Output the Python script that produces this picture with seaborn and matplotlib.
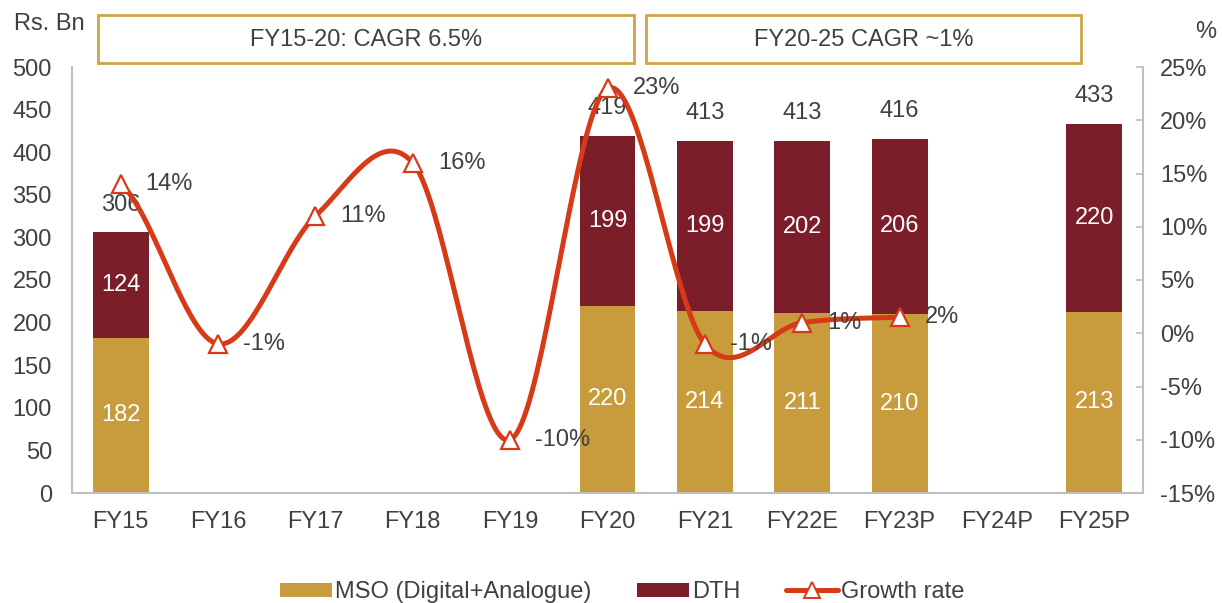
import numpy as np
import pandas as pd
import matplotlib
matplotlib.use("Agg")
import matplotlib.pyplot as plt
from matplotlib.patches import Rectangle, Patch
from matplotlib.lines import Line2D
import seaborn as sns

# ---- data ----
years = ["FY15", "FY16", "FY17", "FY18", "FY19", "FY20", "FY21",
         "FY22E", "FY23P", "FY24P", "FY25P"]
bar_years = ["FY15", "FY20", "FY21", "FY22E", "FY23P", "FY25P"]
mso = [182, 220, 214, 211, 210, 213]
dth = [124, 199, 199, 202, 206, 220]
growth_years = ["FY15", "FY16", "FY17", "FY18", "FY19", "FY20", "FY21",
                "FY22E", "FY23P"]
growth = [14, -1, 11, 16, -10, 23, -1, 1.0, 1.5]
cagr_notes = ["FY15-20: CAGR 6.5%", "FY20-25 CAGR ~1%"]

# ---- style ----
MSO_C = "#C89B3C"
DTH_C = "#7B1E29"
LINE_C = "#D63A17"
BOX_C = "#CFA445"
TXT_C = "#404040"
AX_C = "#BFBFBF"
FS = 17

sns.set_theme(style="white")
plt.rcParams["font.family"] = ["Liberation Sans", "DejaVu Sans"]
plt.rcParams["text.color"] = TXT_C

W, H = 1222, 603
fig = plt.figure(figsize=(W / 100, H / 100), dpi=100)
ax = fig.add_axes([72 / W, 1 - 493 / H, (1143 - 72) / W, (493 - 67) / H])

df = pd.DataFrame({"year": bar_years, "mso": mso, "dth": dth})
df["total"] = df["mso"] + df["dth"]

# stacked bars: full height in DTH colour, MSO drawn over the lower part
sns.barplot(data=df, x="year", y="total", order=years, color=DTH_C,
            saturation=1, width=0.575, errorbar=None, ax=ax, linewidth=0)
sns.barplot(data=df, x="year", y="mso", order=years, color=MSO_C,
            saturation=1, width=0.575, errorbar=None, ax=ax, linewidth=0)

pos = {y: i for i, y in enumerate(years)}
for _, r in df.iterrows():
    x = pos[r["year"]]
    ax.text(x, r["mso"] / 2, f"{r['mso']:.0f}", ha="center", va="center",
            color="white", fontsize=FS)
    ax.text(x, r["mso"] + r["dth"] / 2, f"{r['dth']:.0f}", ha="center",
            va="center", color="white", fontsize=FS)
    ax.annotate(f"{r['total']:.0f}", (x, r["total"]), xytext=(0, 20),
                textcoords="offset points", ha="center", va="center",
                color=TXT_C, fontsize=FS)

ax.set_xlim(-0.5, len(years) - 0.5)
ax.set_ylim(0, 500)
ax.set_yticks(np.arange(0, 501, 50))
ax.set_xlabel("")
ax.set_ylabel("")
for s in ["top", "right"]:
    ax.spines[s].set_visible(False)
for s in ["left", "bottom"]:
    ax.spines[s].set_color(AX_C)
    ax.spines[s].set_linewidth(1.5)
ax.tick_params(axis="y", length=0, pad=14.5, labelsize=FS, labelcolor=TXT_C)
ax.tick_params(axis="x", length=0, pad=13, labelsize=FS, labelcolor=TXT_C)

# ---- growth rate on secondary axis ----
ax2 = ax.twinx()
gx = np.array([pos[y] for y in growth_years], dtype=float)
gy = np.array(growth, dtype=float)


def smooth_curve(x, y, n=40):
    """Catmull-Rom style smoothing through every point."""
    px = np.concatenate([[2 * x[0] - x[1]], x, [2 * x[-1] - x[-2]]])
    py = np.concatenate([[y[0]], y, [y[-1]]])
    xs, ys = [], []
    for i in range(1, len(px) - 2):
        t = np.linspace(0, 1, n, endpoint=(i == len(px) - 3))
        h00 = 2 * t**3 - 3 * t**2 + 1
        h10 = t**3 - 2 * t**2 + t
        h01 = -2 * t**3 + 3 * t**2
        h11 = t**3 - t**2
        mx0 = (px[i + 1] - px[i - 1]) / 2
        mx1 = (px[i + 2] - px[i]) / 2
        my0 = (py[i + 1] - py[i - 1]) / 2
        my1 = (py[i + 2] - py[i]) / 2
        xs.append(h00 * px[i] + h10 * mx0 + h01 * px[i + 1] + h11 * mx1)
        ys.append(h00 * py[i] + h10 * my0 + h01 * py[i + 1] + h11 * my1)
    return np.concatenate(xs), np.concatenate(ys)


cx, cy = smooth_curve(gx, gy)
sns.lineplot(x=cx, y=cy, sort=False, color=LINE_C, linewidth=3.6, ax=ax2,
             zorder=3)
ax2.plot(gx, gy, linestyle="none", marker="^", markersize=13.5,
         markerfacecolor="white", markeredgecolor=LINE_C,
         markeredgewidth=1.6, zorder=4)
for x, v in zip(gx, gy):
    ax2.annotate(f"{v:.0f}%", (x, v), xytext=(18, 0),
                 textcoords="offset points", ha="left", va="center",
                 color=TXT_C, fontsize=FS, zorder=5)

ax2.set_ylim(-15, 25)
ax2.set_yticks(np.arange(-15, 26, 5))
ax2.set_yticklabels([f"{t}%" for t in range(-15, 26, 5)])
ax2.grid(False)
for s in ["top", "left", "bottom"]:
    ax2.spines[s].set_visible(False)
ax2.spines["right"].set_color(AX_C)
ax2.spines["right"].set_linewidth(1.5)
ax2.tick_params(axis="y", direction="in", length=5, width=1.2, color=AX_C,
                pad=12.5, labelsize=FS, labelcolor=TXT_C)
ax.grid(False)

# ---- axis titles ----
fig.text(14 / W, 1 - 24 / H, "Rs. Bn", ha="left", va="center",
         fontsize=FS, color=TXT_C)
fig.text(1206 / W, 1 - 32 / H, "%", ha="center", va="center",
         fontsize=FS, color=TXT_C)

# ---- CAGR boxes ----
boxes = [(98, 634), (646, 1081)]
for (x0, x1), note in zip(boxes, cagr_notes):
    fig.add_artist(Rectangle((x0 / W, 1 - 63 / H), (x1 - x0) / W, 48 / H,
                             transform=fig.transFigure, fill=False,
                             edgecolor=BOX_C, linewidth=2))
    fig.text((x0 + x1) / 2 / W, 1 - 40 / H, note, ha="center",
             va="center", fontsize=FS, color=TXT_C)

# ---- legend ----
handles = [
    Patch(facecolor=MSO_C, edgecolor="none", label="MSO (Digital+Analogue)"),
    Patch(facecolor=DTH_C, edgecolor="none", label="DTH"),
    Line2D([], [], color=LINE_C, linewidth=3.6, marker="^", markersize=12,
           markerfacecolor="white", markeredgecolor=LINE_C,
           markeredgewidth=1.4, label="Growth rate"),
]
fig.legend(handles=handles, loc="center", bbox_to_anchor=(622 / W, 1 - 592 / H),
           ncol=3, frameon=False, fontsize=FS, handlelength=2.2,
           handleheight=0.55, handletextpad=0.12, columnspacing=1.95,
           labelcolor=TXT_C)

fig.savefig("out.png", dpi=100)
